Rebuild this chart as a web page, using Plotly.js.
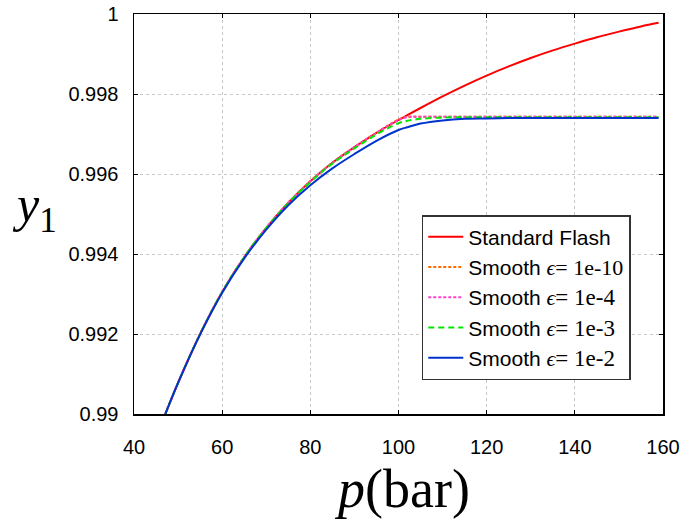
<!DOCTYPE html>
<html>
<head>
<meta charset="utf-8">
<script src="https://cdn.plot.ly/plotly-3.0.1.min.js"></script>
<style>html,body{margin:0;padding:0;background:#fff;}#chart{width:684px;height:527px;}</style>
</head>
<body>
<div id="chart"></div>
<script>
// pressure (bar)
const p = [47.1, 50, 55, 60, 65, 70, 75, 80, 85, 90, 95, 100, 102, 105, 110, 115, 120, 125, 130, 135, 140, 145, 150, 155, 159];

const seriesNames = [
  'Standard Flash',
  'Smooth <span style="font-family:\'Liberation Serif\';font-style:italic;font-size:22px">ϵ</span><span style="font-family:\'Liberation Serif\';font-size:22px">= 1e-10</span>',
  'Smooth <span style="font-family:\'Liberation Serif\';font-style:italic;font-size:22px">ϵ</span><span style="font-family:\'Liberation Serif\';font-size:23px">= 1e-4</span>',
  'Smooth <span style="font-family:\'Liberation Serif\';font-style:italic;font-size:22px">ϵ</span><span style="font-family:\'Liberation Serif\';font-size:23px">= 1e-3</span>',
  'Smooth <span style="font-family:\'Liberation Serif\';font-style:italic;font-size:22px">ϵ</span><span style="font-family:\'Liberation Serif\';font-size:23px">= 1e-2</span>'
];

const yStandard = [0.99000, 0.99078, 0.99200, 0.99305, 0.99392, 0.99465, 0.99528, 0.99582, 0.99628, 0.99667, 0.99703, 0.99735, 0.99747, 0.99765, 0.99794, 0.99821, 0.99846, 0.99869, 0.99890, 0.99909, 0.99926, 0.99942, 0.99956, 0.99969, 0.99978];
const yEps1e10  = [0.99000, 0.99078, 0.99200, 0.99305, 0.99392, 0.99465, 0.99528, 0.99582, 0.99628, 0.99667, 0.99703, 0.99736, 0.99743, 0.99743, 0.99743, 0.99743, 0.99743, 0.99743, 0.99743, 0.99743, 0.99743, 0.99743, 0.99743, 0.99743, 0.99743];
const yEps1e4   = [0.99000, 0.99078, 0.99200, 0.99305, 0.99392, 0.99465, 0.99528, 0.99582, 0.99628, 0.99667, 0.99703, 0.99735, 0.99742, 0.99743, 0.99743, 0.99743, 0.99743, 0.99743, 0.99743, 0.99743, 0.99743, 0.99743, 0.99743, 0.99743, 0.99743];
const yEps1e3   = [0.99000, 0.99078, 0.99200, 0.99305, 0.99392, 0.99465, 0.99527, 0.99580, 0.99626, 0.99664, 0.99699, 0.99727, 0.99733, 0.99738, 0.99741, 0.99742, 0.99742, 0.99742, 0.99742, 0.99742, 0.99742, 0.99742, 0.99742, 0.99742, 0.99742];
const yEps1e2   = [0.99000, 0.99078, 0.99199, 0.99303, 0.99389, 0.99461, 0.99522, 0.99572, 0.99614, 0.99650, 0.99683, 0.99710, 0.99717, 0.99726, 0.99734, 0.99738, 0.99739, 0.99740, 0.99740, 0.99740, 0.99740, 0.99740, 0.99740, 0.99740, 0.99740];

const xTicks = [40, 60, 80, 100, 120, 140, 160];
const yTicks = [0.99, 0.992, 0.994, 0.996, 0.998, 1];
const yTickText = ['0.99', '0.992', '0.994', '0.996', '0.998', '1'];

const ySeries = [yStandard, yEps1e10, yEps1e4, yEps1e3, yEps1e2];
const colors = ['#ff0000', '#ff6a00', '#ff40cc', '#00e600', '#0033cc'];
const dashes = ['solid', '3px,2px', '3px,2px', '6px,4px', 'solid'];

const traces = ySeries.map((ys, i) => ({
  x: p, y: ys, type: 'scatter', mode: 'lines',
  name: seriesNames[i],
  line: {color: colors[i], width: 2, dash: dashes[i], shape: 'spline', smoothing: 1}
}));

const tickFont = {family: 'Liberation Sans, Arial, sans-serif', size: 20, color: '#000'};

const layout = {
  width: 684, height: 527,
  margin: {l: 134, r: 21, t: 14, b: 113},
  paper_bgcolor: '#fff', plot_bgcolor: '#fff',
  showlegend: true,
  legend: {
    x: 0.544, y: 0.4975, xanchor: 'left', yanchor: 'top',
    bgcolor: '#fff', bordercolor: '#333', borderwidth: 1.5,
    font: {family: 'Liberation Sans, Arial, sans-serif', size: 21, color: '#000'},
    itemwidth: 35
  },
  xaxis: {
    range: [40, 160], tickvals: xTicks, ticktext: xTicks.map(String),
    showline: true, linecolor: '#000', linewidth: 1.5, mirror: 'ticks',
    ticks: 'inside', ticklen: 4, tickcolor: '#000',
    showgrid: true, gridcolor: '#c8c8c8', griddash: '3px,3px', gridwidth: 1,
    zeroline: false, tickfont: tickFont, ticklabelstandoff: 14
  },
  yaxis: {
    range: [0.99, 1.0], tickvals: yTicks, ticktext: yTickText,
    showline: true, linecolor: '#000', linewidth: 1.5, mirror: 'ticks',
    ticks: 'inside', ticklen: 4, tickcolor: '#000',
    showgrid: true, gridcolor: '#c8c8c8', griddash: '3px,3px', gridwidth: 1,
    zeroline: false, tickfont: tickFont, ticklabelstandoff: 10
  },
  annotations: [
    {text: '<i>p</i>(bar)', xref: 'paper', yref: 'paper', x: 0.5, y: -0.1875,
     xanchor: 'center', yanchor: 'middle', xshift: 3, showarrow: false,
     font: {family: 'Liberation Serif, DejaVu Serif, serif', size: 54, color: '#000'}},
    {text: '<i>y</i><sub>1</sub>', xref: 'paper', yref: 'paper', x: -0.188, y: 0.515,
     xanchor: 'center', yanchor: 'middle', showarrow: false,
     font: {family: 'Liberation Serif, DejaVu Serif, serif', size: 50, color: '#000'}}
  ]
};

Plotly.newPlot('chart', traces, layout, {displayModeBar: false, staticPlot: true});
</script>
</body>
</html>
